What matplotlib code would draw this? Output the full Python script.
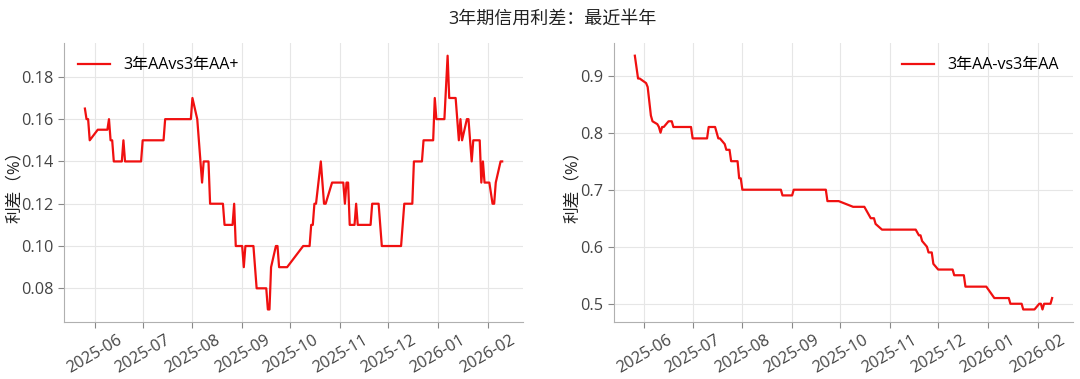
import matplotlib
matplotlib.use("Agg")
import matplotlib.pyplot as plt
import matplotlib.dates as mdates
import matplotlib.ticker as mticker
import pandas as pd

plt.rcParams['font.family'] = ['Open Sans', 'Noto Sans CJK SC', 'DejaVu Sans']
plt.rcParams['axes.unicode_minus'] = False

title = "3年期信用利差：最近半年"
ylabel = "利差（%）"
label_left = "3年AAvs3年AA+"
label_right = "3年AA-vs3年AA"

dates_left = [
    "2025-05-26", "2025-05-27", "2025-05-28", "2025-05-29", "2025-06-03", "2025-06-09",
    "2025-06-10", "2025-06-11", "2025-06-12", "2025-06-13", "2025-06-18", "2025-06-19",
    "2025-06-20", "2025-06-30", "2025-07-01", "2025-07-14", "2025-07-15", "2025-07-31",
    "2025-08-01", "2025-08-04", "2025-08-07", "2025-08-08", "2025-08-11", "2025-08-12",
    "2025-08-20", "2025-08-21", "2025-08-26", "2025-08-27", "2025-08-28", "2025-09-01",
    "2025-09-02", "2025-09-03", "2025-09-08", "2025-09-10", "2025-09-16", "2025-09-17",
    "2025-09-18", "2025-09-19", "2025-09-22", "2025-09-23", "2025-09-24", "2025-09-29",
    "2025-10-09", "2025-10-13", "2025-10-14", "2025-10-15", "2025-10-16", "2025-10-17",
    "2025-10-20", "2025-10-22", "2025-10-23", "2025-10-27", "2025-11-03", "2025-11-04",
    "2025-11-05", "2025-11-06", "2025-11-07", "2025-11-10", "2025-11-11", "2025-11-12",
    "2025-11-20", "2025-11-21", "2025-11-25", "2025-11-27", "2025-12-09", "2025-12-11",
    "2025-12-16", "2025-12-17", "2025-12-22", "2025-12-23", "2025-12-29", "2025-12-30",
    "2025-12-31", "2026-01-05", "2026-01-07", "2026-01-08", "2026-01-12", "2026-01-14",
    "2026-01-15", "2026-01-16", "2026-01-19", "2026-01-20", "2026-01-22", "2026-01-23",
    "2026-01-27", "2026-01-28", "2026-01-29", "2026-01-30", "2026-02-02", "2026-02-04",
    "2026-02-05", "2026-02-06", "2026-02-09", "2026-02-10",
]
values_left = [
    0.165, 0.16, 0.16, 0.15, 0.155, 0.155,
    0.16, 0.15, 0.15, 0.14, 0.14, 0.15,
    0.14, 0.14, 0.15, 0.15, 0.16, 0.16,
    0.17, 0.16, 0.13, 0.14, 0.14, 0.12,
    0.12, 0.11, 0.11, 0.12, 0.10, 0.10,
    0.09, 0.10, 0.10, 0.08, 0.08, 0.07,
    0.07, 0.09, 0.10, 0.10, 0.09, 0.09,
    0.10, 0.10, 0.11, 0.11, 0.12, 0.12,
    0.14, 0.12, 0.12, 0.13, 0.13, 0.12,
    0.13, 0.13, 0.11, 0.11, 0.12, 0.11,
    0.11, 0.12, 0.12, 0.10, 0.10, 0.12,
    0.12, 0.14, 0.14, 0.15, 0.15, 0.17,
    0.16, 0.16, 0.19, 0.17, 0.17, 0.15,
    0.16, 0.15, 0.16, 0.16, 0.14, 0.15,
    0.15, 0.13, 0.14, 0.13, 0.13, 0.12,
    0.12, 0.13, 0.14, 0.14,
]

dates_right = [
    "2025-05-26", "2025-05-28", "2025-05-29", "2025-06-02", "2025-06-03", "2025-06-05",
    "2025-06-06", "2025-06-09", "2025-06-10", "2025-06-11", "2025-06-12", "2025-06-13",
    "2025-06-16", "2025-06-18", "2025-06-19", "2025-06-30", "2025-07-01", "2025-07-10",
    "2025-07-11", "2025-07-15", "2025-07-17", "2025-07-18", "2025-07-21", "2025-07-22",
    "2025-07-24", "2025-07-25", "2025-07-29", "2025-07-30", "2025-07-31", "2025-08-01",
    "2025-08-25", "2025-08-26", "2025-09-01", "2025-09-02", "2025-09-22", "2025-09-23",
    "2025-09-30", "2025-10-09", "2025-10-16", "2025-10-20", "2025-10-22", "2025-10-23",
    "2025-10-27", "2025-11-17", "2025-11-19", "2025-11-20", "2025-11-21", "2025-11-24",
    "2025-11-25", "2025-11-27", "2025-11-28", "2025-12-01", "2025-12-10", "2025-12-11",
    "2025-12-17", "2025-12-18", "2025-12-31", "2026-01-05", "2026-01-14", "2026-01-15",
    "2026-01-22", "2026-01-23", "2026-01-30", "2026-02-02", "2026-02-03", "2026-02-04",
    "2026-02-05", "2026-02-09", "2026-02-10",
]
values_right = [
    0.935, 0.895, 0.895, 0.887, 0.88, 0.83,
    0.82, 0.815, 0.81, 0.80, 0.81, 0.81,
    0.82, 0.82, 0.81, 0.81, 0.79, 0.79,
    0.81, 0.81, 0.79, 0.79, 0.78, 0.77,
    0.77, 0.75, 0.75, 0.72, 0.72, 0.70,
    0.70, 0.69, 0.69, 0.70, 0.70, 0.68,
    0.68, 0.67, 0.67, 0.65, 0.65, 0.64,
    0.63, 0.63, 0.62, 0.62, 0.61, 0.60,
    0.59, 0.59, 0.57, 0.56, 0.56, 0.55,
    0.55, 0.53, 0.53, 0.51, 0.51, 0.50,
    0.50, 0.49, 0.49, 0.50, 0.50, 0.49,
    0.50, 0.50, 0.51,
]

fig = plt.figure(figsize=(10.8, 3.79), dpi=100)
ax1 = fig.add_axes([0.0593, 0.150, 0.425, 0.7365])
ax2 = fig.add_axes([0.5685, 0.150, 0.425, 0.7365])

text_color = '#444444'
for ax, d, v, lab, loc, lx in [(ax1, dates_left, values_left, label_left, 'upper left', -0.090),
                               (ax2, dates_right, values_right, label_right, 'upper right', -0.071)]:
    ax.plot(pd.to_datetime(d), v, color='#f01010', linewidth=1.6, label=lab)
    ax.grid(True, color='#e6e6e6', linewidth=0.8)
    ax.set_axisbelow(True)
    for s in ['top', 'right']:
        ax.spines[s].set_visible(False)
    for s in ['left', 'bottom']:
        ax.spines[s].set_color('#b0b0b0')
    ax.tick_params(colors=text_color, labelsize=11.7, length=4, color='#888888')
    ax.xaxis.set_major_locator(mdates.MonthLocator())
    ax.xaxis.set_major_formatter(mdates.DateFormatter('%Y-%m'))
    for t in ax.get_xticklabels():
        t.set_rotation(30)
        t.set_ha('center')
    ax.set_ylabel(ylabel, fontsize=12, color='#222222')
    ax.yaxis.set_label_coords(lx, 0.5)
    ax.legend(loc=loc, frameon=False, fontsize=11.5)

ax1.set_yticks([0.08, 0.10, 0.12, 0.14, 0.16, 0.18])
ax1.yaxis.set_major_formatter(mticker.FormatStrFormatter('%.2f'))
ax2.set_yticks([0.5, 0.6, 0.7, 0.8, 0.9])
ax2.yaxis.set_major_formatter(mticker.FormatStrFormatter('%.1f'))

fig.suptitle(title, fontsize=13, x=0.511, y=0.975, color='#222222')
fig.savefig('out.png', dpi=100)
